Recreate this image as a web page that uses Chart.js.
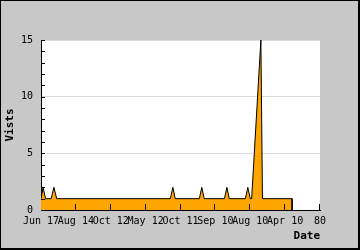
<!DOCTYPE html>
<html>
<head>
<meta charset="utf-8">
<script src="https://cdn.jsdelivr.net/npm/chart.js@4"></script>
<style>
  html, body { margin: 0; padding: 0; background: #c8c8c8; }
  canvas { display: block; }
</style>
</head>
<body>
<canvas id="grafico" width="360" height="250"></canvas>
<script>
// ---- DADOS ----
const xTickLabels = ["Jun 17", "Aug 14", "Oct 12", "May 12", "Oct 11", "Sep 10", "Aug 10", "Apr 10", "80"];
const dias   = [0, 0.6, 1.3, 2.9, 3.7, 4.5, 37.1, 37.8, 38.5, 45.4, 46.1, 46.8, 52.6, 53.3, 54, 58.6, 59.3, 60, 60.4, 63.05, 63.5, 72, 72];
const visits = [1, 2,   1,   1,   2,   1,   1,    2,    1,    1,    2,    1,    1,    2,    1,  1,    2,    1,  1,    15,    1,    1,  0];

const MONO = "'DejaVu Sans Mono', monospace";

const pontos = dias.map((d, i) => ({ x: d, y: visits[i] }));

// fundo, moldura, marcas e titulos dos eixos
const moldura = {
  id: "moldura",
  beforeDraw(chart) {
    const ctx = chart.ctx;
    const a = chart.chartArea;
    ctx.save();
    ctx.fillStyle = "#c8c8c8";
    ctx.fillRect(0, 0, chart.width, chart.height);
    ctx.fillStyle = "#000";
    ctx.fillRect(0, 0, chart.width, 1);
    ctx.fillRect(0, 0, 1, chart.height);
    ctx.fillRect(0, chart.height - 2, chart.width, 2);
    ctx.fillRect(chart.width - 2, 0, 2, chart.height);
    ctx.fillStyle = "#fff";
    ctx.fillRect(a.left, a.top, a.right - a.left, a.bottom - a.top);
    ctx.restore();
  },
  afterDraw(chart) {
    const ctx = chart.ctx;
    const a = chart.chartArea;
    const sx = chart.scales.x, sy = chart.scales.y;
    ctx.save();
    ctx.strokeStyle = "#000";
    ctx.lineWidth = 1;
    ctx.beginPath();
    for (let v = 1; v <= 15; v++) {
      const y = Math.round(sy.getPixelForValue(v)) + 0.5;
      ctx.moveTo(a.left, y);
      ctx.lineTo(a.left + 4, y);
    }
    for (let v = 10; v <= 80; v += 10) {
      const x = Math.round(sx.getPixelForValue(v)) - 0.5;
      ctx.moveTo(x, a.bottom);
      ctx.lineTo(x, a.bottom - 6);
    }
    ctx.stroke();

    ctx.fillStyle = "#000";
    ctx.font = "bold 11px " + MONO;
    ctx.textAlign = "right";
    ctx.textBaseline = "middle";
    ctx.fillText("Date", a.right, 236);
    ctx.translate(10, 125);
    ctx.rotate(-Math.PI / 2);
    ctx.textAlign = "center";
    ctx.fillText("Vists", 0, 0);
    ctx.restore();
  }
};

new Chart(document.getElementById("grafico"), {
  type: "line",
  data: {
    datasets: [{
      label: "Vists",
      data: pontos,
      fill: "origin",
      backgroundColor: "#ffa500",
      borderColor: "#000",
      borderWidth: 1,
      pointRadius: 0,
      tension: 0
    }]
  },
  options: {
    responsive: false,
    animation: false,
    devicePixelRatio: 1,
    layout: { padding: { top: 40, right: 40, left: 0, bottom: 0 } },
    plugins: { legend: { display: false }, tooltip: { enabled: false } },
    scales: {
      x: {
        type: "linear",
        min: 0,
        max: 80,
        afterFit: s => { s.height = 40; },
        border: { color: "#000", width: 1 },
        grid: { display: false, drawTicks: false },
        ticks: {
          stepSize: 10,
          autoSkip: false,
          maxRotation: 0,
          padding: 5,
          color: "#000",
          font: { family: MONO, size: 10 },
          callback: v => xTickLabels[v / 10]
        }
      },
      y: {
        min: 0,
        max: 15,
        afterFit: s => { s.width = 41; },
        border: { color: "#000", width: 1 },
        grid: {
          drawTicks: false,
          color: c => (c.tick && c.tick.value > 0 ? "#dcdcdc" : "rgba(0,0,0,0)")
        },
        ticks: {
          stepSize: 5,
          padding: 8,
          color: "#000",
          font: { family: MONO, size: 10 }
        }
      }
    }
  },
  plugins: [moldura]
});
</script>
</body>
</html>
